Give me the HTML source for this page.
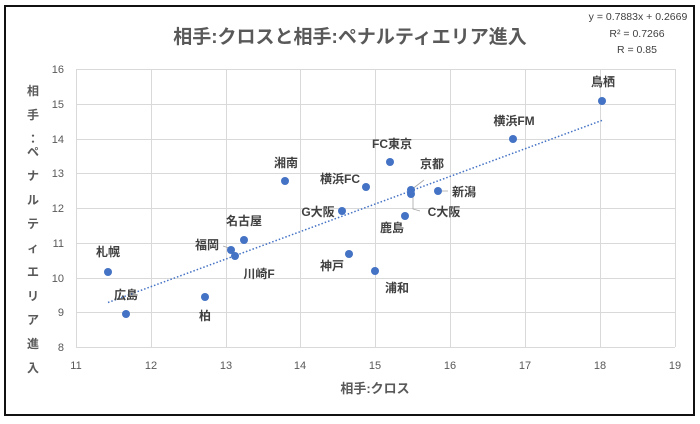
<!DOCTYPE html>
<html><head><meta charset="utf-8"><style>
html,body{margin:0;padding:0;background:#fff;}
svg{display:block;font-family:"Liberation Sans","Noto Sans CJK JP",sans-serif;}
</style></head><body>
<svg width="700" height="424" viewBox="0 0 700 424">
<rect x="0" y="0" width="700" height="424" fill="#fff"/>
<rect x="5" y="6" width="689" height="409" fill="#fff" stroke="#111" stroke-width="2"/>
<g stroke="#d9d9d9" stroke-width="1">
<line x1="76" y1="69.5" x2="675" y2="69.5"/><line x1="76" y1="104.5" x2="675" y2="104.5"/>
<line x1="76" y1="139.5" x2="675" y2="139.5"/><line x1="76" y1="173.5" x2="675" y2="173.5"/>
<line x1="76" y1="208.5" x2="675" y2="208.5"/><line x1="76" y1="243.5" x2="675" y2="243.5"/>
<line x1="76" y1="278.5" x2="675" y2="278.5"/><line x1="76" y1="312.5" x2="675" y2="312.5"/>
<line x1="76" y1="347.5" x2="675" y2="347.5"/>
<line x1="76.5" y1="69" x2="76.5" y2="347"/><line x1="151.5" y1="69" x2="151.5" y2="347"/>
<line x1="226.5" y1="69" x2="226.5" y2="347"/><line x1="300.5" y1="69" x2="300.5" y2="347"/>
<line x1="375.5" y1="69" x2="375.5" y2="347"/><line x1="450.5" y1="69" x2="450.5" y2="347"/>
<line x1="525.5" y1="69" x2="525.5" y2="347"/><line x1="600.5" y1="69" x2="600.5" y2="347"/>
<line x1="675.5" y1="69" x2="675.5" y2="347"/>
</g>
<text x="350" y="43" font-size="19" font-weight="bold" fill="#595959" text-anchor="middle">相手:クロスと相手:ペナルティエリア進入</text>
<g font-size="10.5" fill="#404040" text-anchor="middle">
<text x="638" y="20">y = 0.7883x + 0.2669</text>
<text x="637" y="37">R² = 0.7266</text>
<text x="637" y="53">R = 0.85</text>
</g>
<g font-size="11" fill="#595959" text-anchor="end">
<text x="64" y="73">16</text><text x="64" y="108">15</text><text x="64" y="143">14</text>
<text x="64" y="177">13</text><text x="64" y="212">12</text><text x="64" y="247">11</text>
<text x="64" y="282">10</text><text x="64" y="316">9</text><text x="64" y="351">8</text>
</g>
<g font-size="11" fill="#595959" text-anchor="middle">
<text x="76" y="369">11</text><text x="151" y="369">12</text><text x="226" y="369">13</text>
<text x="300" y="369">14</text><text x="375" y="369">15</text><text x="450" y="369">16</text>
<text x="525" y="369">17</text><text x="600" y="369">18</text><text x="675" y="369">19</text>
</g>
<text x="375" y="393" font-size="13" font-weight="bold" fill="#595959" text-anchor="middle">相手:クロス</text>
<g font-size="12" font-weight="bold" fill="#595959" text-anchor="middle">
<text x="33" y="95">相</text><text x="33" y="119">手</text><text x="33" y="143">：</text>
<text x="33" y="156">ペ</text><text x="33" y="180">ナ</text><text x="33" y="204">ル</text>
<text x="33" y="228">テ</text><text x="33" y="252">ィ</text><text x="33" y="276">エ</text>
<text x="33" y="300">リ</text><text x="33" y="324">ア</text><text x="33" y="348">進</text>
<text x="33" y="372">入</text>
</g>
<line x1="108" y1="302.5" x2="602" y2="120.4" stroke="#4472c4" stroke-width="1.5" stroke-dasharray="1.5,2"/>
<g stroke="#a6a6a6" stroke-width="0.8" fill="none">
<polyline points="411,190 424,180"/><polyline points="413,196 413,209 420,211"/>
<line x1="442" y1="191" x2="448" y2="191"/><line x1="223" y1="246" x2="229" y2="248"/>
</g>
<g fill="#4472c4">
<circle cx="602" cy="101" r="4"/><circle cx="513" cy="139" r="4"/><circle cx="390" cy="162" r="4"/>
<circle cx="285" cy="181" r="4"/><circle cx="366" cy="187" r="4"/><circle cx="411" cy="190" r="4"/>
<circle cx="411" cy="194" r="4"/><circle cx="438" cy="191" r="4"/><circle cx="342" cy="211" r="4"/>
<circle cx="405" cy="216" r="4"/><circle cx="244" cy="240" r="4"/><circle cx="231" cy="250" r="4"/>
<circle cx="235" cy="256" r="4"/><circle cx="349" cy="254" r="4"/><circle cx="108" cy="272" r="4"/>
<circle cx="375" cy="271" r="4"/><circle cx="205" cy="297" r="4"/><circle cx="126" cy="314" r="4"/>
</g>
<g font-size="12" font-weight="bold" fill="#404040" text-anchor="middle">
<text x="603" y="86">鳥栖</text><text x="514" y="125">横浜FM</text><text x="392" y="148">FC東京</text>
<text x="286" y="167">湘南</text><text x="340" y="183">横浜FC</text><text x="432" y="168">京都</text>
<text x="464" y="196">新潟</text><text x="318" y="216">G大阪</text><text x="444" y="216">C大阪</text>
<text x="392" y="232">鹿島</text><text x="244" y="225">名古屋</text><text x="207" y="249">福岡</text>
<text x="259" y="278">川崎F</text><text x="332" y="270">神戸</text><text x="108" y="256">札幌</text>
<text x="397" y="292">浦和</text><text x="205" y="320">柏</text><text x="126" y="299">広島</text>
</g>
</svg>
</body></html>
